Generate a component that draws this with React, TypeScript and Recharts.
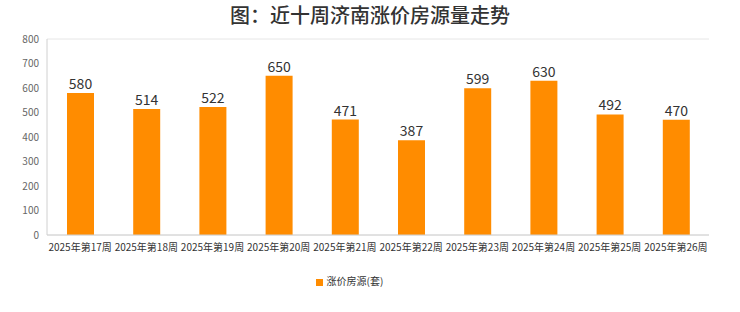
import React from "react";
import { BarChart, Bar, XAxis, YAxis, CartesianGrid, Legend, LabelList } from "recharts";

const categories = ["2025年第17周", "2025年第18周", "2025年第19周", "2025年第20周", "2025年第21周", "2025年第22周", "2025年第23周", "2025年第24周", "2025年第25周", "2025年第26周"];
const values = [580, 514, 522, 650, 471, 387, 599, 630, 492, 470];
const yTicks = [0, 100, 200, 300, 400, 500, 600, 700, 800];
const seriesName = "涨价房源(套)";
const title = "图：近十周济南涨价房源量走势";

const data = categories.map((c, i) => ({ name: c, value: values[i] }));

const FONT = "'Noto Sans CJK SC', 'DejaVu Sans', sans-serif";

export default function App() {
  return (
    <div style={{ position: "relative", width: 740, height: 312, background: "#fff", fontFamily: FONT }}>
      <style>{"body{margin:0}"}</style>
      <div style={{ position: "absolute", top: 2, left: 0, width: 740, textAlign: "center", fontSize: 20, fontWeight: 500, color: "#333", lineHeight: "26px" }}>
        {title}
      </div>
      <BarChart width={740} height={312} data={data} margin={{ top: 39, right: 31, left: 0, bottom: 32 }} barCategoryGap="30%">
        <CartesianGrid horizontal vertical={false} stroke="#e6e6e6" />
        <XAxis dataKey="name" interval={0} tickLine={false} axisLine={{ stroke: "#d0d0d0" }} tick={{ fontSize: 10, fill: "#333", fontFamily: FONT }} tickMargin={3} height={30} />
        <YAxis yAxisId="l" domain={[0, 800]} ticks={yTicks} width={47} tickSize={0} tickMargin={8} axisLine={{ stroke: "#d0d0d0" }} tick={{ fontSize: 10, fill: "#666", fontFamily: FONT }} />
        <YAxis yAxisId="r" orientation="right" domain={[0, 800]} ticks={[]} width={0} axisLine={{ stroke: "#e6e6e6" }} tick={false} />
        <Legend verticalAlign="bottom" iconType="square" iconSize={7} wrapperStyle={{ bottom: 24, fontSize: 10, color: "#333", fontFamily: FONT }} formatter={(v) => <span style={{ color: "#333" }}>{v}</span>} />
        <Bar yAxisId="l" dataKey="value" name={seriesName} fill="#FF8C00" barSize={27} isAnimationActive={false}>
          <LabelList dataKey="value" position="top" offset={4} style={{ fontSize: 14, fill: "#333", fontFamily: FONT }} />
        </Bar>
      </BarChart>
    </div>
  );
}
